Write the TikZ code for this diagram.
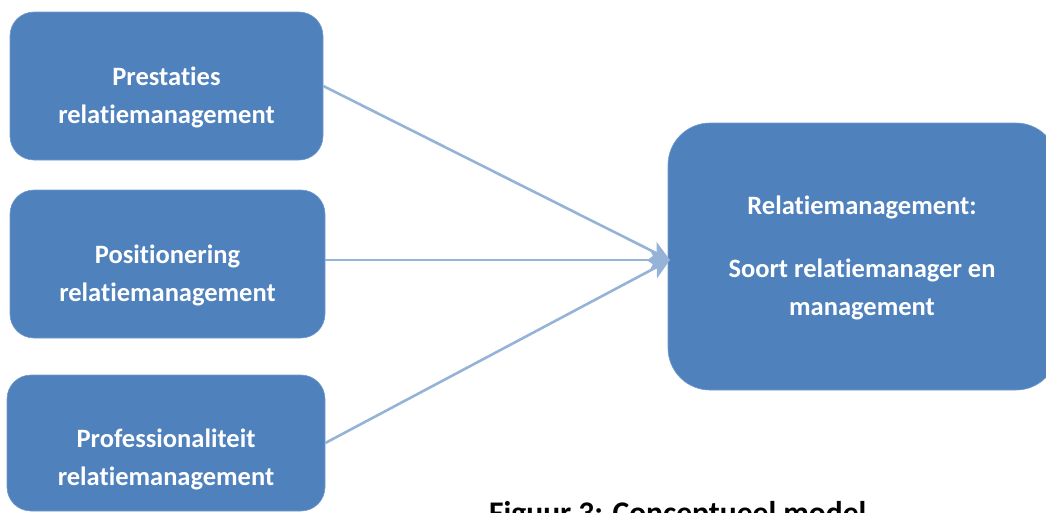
\documentclass[tikz,border=0pt]{standalone}
\usepackage{fontspec}
\setmainfont{Carlito}[Ligatures=NoCommon]
\usetikzlibrary{arrows.meta}
\definecolor{boxblue}{HTML}{4F81BD}
\definecolor{linkblue}{HTML}{95B3D7}
\begin{document}
\begin{tikzpicture}[x=1pt,y=-1pt,
  blok/.style={rectangle, rounded corners=24pt, fill=boxblue, draw=boxblue!80!white, line width=0.6pt,
    text=white, font=\bfseries\fontsize{26.5}{37}\selectfont, align=center, inner sep=0pt},
  label/.style={text=white, font=\bfseries\fontsize{26.5}{38}\selectfont, align=center, inner sep=0pt},
  link/.style={draw=linkblue, line width=2.6pt, -{Stealth[length=20pt,width=20pt,inset=5pt]}}]
\useasboundingbox (0,0) rectangle (1046,512);
\clip (0,0) rectangle (1046,512);
% input boxes on the left
\node[blok, minimum width=313pt, minimum height=148pt] (a) at (166.5,86) {};
\node[blok, minimum width=315pt, minimum height=148pt] (b) at (167.5,264) {};
\node[blok, minimum width=318pt, minimum height=136pt] (c) at (166,443) {};
\node[label] (at) at (166.5,97) {Prestaties\\relatiemanagement};
\node[label] (bt) at (167.5,275) {Positionering\\relatiemanagement};
\node[label] (ct) at (166,459) {Professionaliteit\\relatiemanagement};
% target box on the right
\node[blok, rounded corners=42pt, minimum width=390pt, minimum height=267pt] (r) at (863,256.5) {};
\node[label] (rt) at (862,207) {Relatiemanagement:};
\node[label] (rb) at (862,289) {Soort relatiemanager en\\management};
% connectors meeting at one point
\coordinate (tip) at (670,260);
\draw[link] (a.east) -- (tip);
\draw[link] (b.east |- tip) -- (tip);
\draw[link] (c.east) -- (tip);
\node[anchor=north west, inner sep=0pt, font=\bfseries\fontsize{31.5}{36}\selectfont] (cap) at (489,501) {Figuur 3: Conceptueel model};
\end{tikzpicture}
\end{document}
